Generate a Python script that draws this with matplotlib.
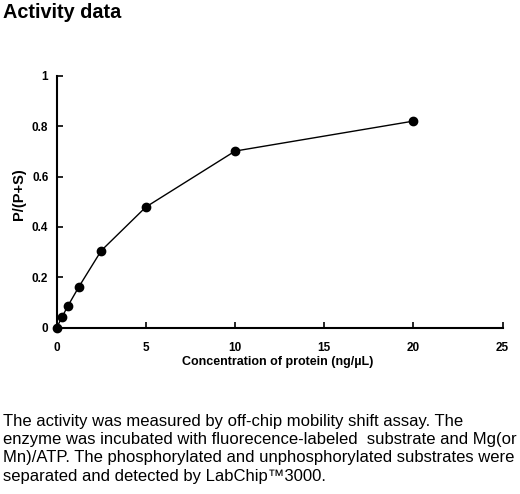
import matplotlib
matplotlib.use('Agg')
import matplotlib.pyplot as plt

plt.rcParams['font.family'] = ['Liberation Sans', 'DejaVu Sans']

# protein concentration (ng/uL) vs P/(P+S)
conc = [0, 0.3125, 0.625, 1.25, 2.5, 5, 10, 20]
ratio = [0.0, 0.044, 0.086, 0.163, 0.306, 0.479, 0.701, 0.820]
xTicks = [0, 5, 10, 15, 20, 25]
yTicks = [0, 0.2, 0.4, 0.6, 0.8, 1]
yTickLabels = ['0', '0.2', '0.4', '0.6', '0.8', '1']

caption = ('The activity was measured by off-chip mobility shift assay. The\n'
           'enzyme was incubated with fluorecence-labeled  substrate and Mg(or\n'
           'Mn)/ATP. The phosphorylated and unphosphorylated substrates were\n'
           'separated and detected by LabChip\u21223000.')

fig = plt.figure(figsize=(5.2, 4.94), dpi=100)
ax = fig.add_axes([0.109, 0.3366, 0.8577, 0.5101])

ax.plot(conc, ratio, color='black', lw=1.0, marker='o', ms=6, clip_on=False, zorder=3)

ax.set_xlim(0, 25)
ax.set_ylim(0, 1)
ax.set_xticks(xTicks)
ax.set_yticks(yTicks)
ax.set_yticklabels(yTickLabels)
for s in ['top', 'right']:
    ax.spines[s].set_visible(False)
for s in ['left', 'bottom']:
    ax.spines[s].set_linewidth(1.5)
ax.tick_params(direction='in', length=4, width=1.2, labelsize=8.5)
ax.tick_params(axis='x', pad=10)
ax.tick_params(axis='y', pad=6)
for lbl in ax.get_xticklabels() + ax.get_yticklabels():
    lbl.set_fontweight('bold')

ax.set_xlabel('Concentration of protein (ng/\u00b5L)', fontsize=9, fontweight='bold')
ax.set_ylabel('P/(P+S)', fontsize=10.5, fontweight='bold')
ax.xaxis.set_label_coords(0.496, -0.112)
ax.yaxis.set_label_coords(-0.068, 0.53)

fig.text(0.006, 0.963, 'Activity data', fontsize=14.3, fontweight='bold', va='baseline')
fig.text(0.006, 0.162, caption, fontsize=12, va='top', linespacing=1.27)

fig.savefig('out.png', dpi=100)
